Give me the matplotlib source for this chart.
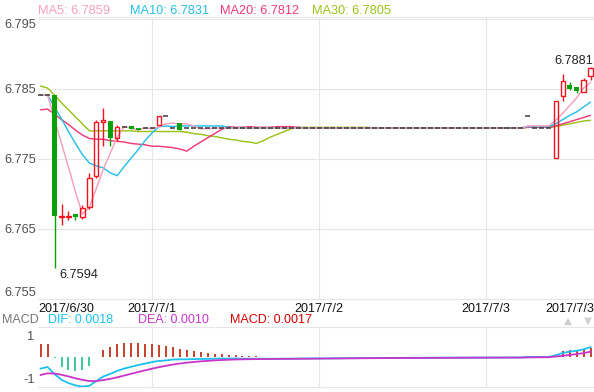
import matplotlib
matplotlib.use("Agg")
import matplotlib.pyplot as plt
import numpy as np

# ---------------- data (hourly candles, 2017/6/30 08:00 .. 2017/7/3 15:00) ----------------
open_ = [6.7841, 6.7841, 6.7841, 6.7667, 6.7667, 6.7671, 6.7667, 6.7682,
         6.7725, 6.7803, 6.7804, 6.7780, 6.7796, 6.7797, 6.7794, 6.7794,
         6.7794, 6.7798, 6.7811, 6.7794, 6.7801, 6.7794, 6.7794, 6.7794,
         6.7794, 6.7794, 6.7794, 6.7794, 6.7794, 6.7794, 6.7794, 6.7794,
         6.7794, 6.7794, 6.7794, 6.7794, 6.7794, 6.7794, 6.7794, 6.7794,
         6.7794, 6.7794, 6.7794, 6.7794, 6.7794, 6.7794, 6.7794, 6.7794,
         6.7794, 6.7794, 6.7794, 6.7794, 6.7794, 6.7794, 6.7794, 6.7794,
         6.7794, 6.7794, 6.7794, 6.7794, 6.7794, 6.7794, 6.7794, 6.7794,
         6.7794, 6.7794, 6.7794, 6.7794, 6.7794, 6.7794, 6.7811, 6.7794,
         6.7794, 6.7794, 6.7751, 6.7839, 6.7856, 6.7852, 6.7846, 6.7868]
high = [6.7841, 6.7841, 6.7841, 6.7686, 6.7675, 6.7671, 6.7684, 6.7730,
        6.7806, 6.7822, 6.7804, 6.7799, 6.7796, 6.7797, 6.7794, 6.7794,
        6.7794, 6.7811, 6.7811, 6.7794, 6.7801, 6.7794, 6.7794, 6.7794,
        6.7794, 6.7794, 6.7794, 6.7794, 6.7794, 6.7794, 6.7794, 6.7794,
        6.7794, 6.7794, 6.7794, 6.7794, 6.7794, 6.7794, 6.7794, 6.7794,
        6.7794, 6.7794, 6.7794, 6.7794, 6.7794, 6.7794, 6.7794, 6.7794,
        6.7794, 6.7794, 6.7794, 6.7794, 6.7794, 6.7794, 6.7794, 6.7794,
        6.7794, 6.7794, 6.7794, 6.7794, 6.7794, 6.7794, 6.7794, 6.7794,
        6.7794, 6.7794, 6.7794, 6.7794, 6.7794, 6.7794, 6.7811, 6.7794,
        6.7794, 6.7794, 6.7833, 6.7871, 6.7860, 6.7852, 6.7866, 6.7881]
low = [6.7841, 6.7841, 6.7594, 6.7656, 6.7663, 6.7663, 6.7664, 6.7679,
       6.7722, 6.7768, 6.7768, 6.7775, 6.7796, 6.7792, 6.7791, 6.7794,
       6.7794, 6.7798, 6.7811, 6.7794, 6.7791, 6.7794, 6.7794, 6.7794,
       6.7794, 6.7794, 6.7794, 6.7794, 6.7794, 6.7794, 6.7794, 6.7794,
       6.7794, 6.7794, 6.7794, 6.7794, 6.7794, 6.7794, 6.7794, 6.7794,
       6.7794, 6.7794, 6.7794, 6.7794, 6.7794, 6.7794, 6.7794, 6.7794,
       6.7794, 6.7794, 6.7794, 6.7794, 6.7794, 6.7794, 6.7794, 6.7794,
       6.7794, 6.7794, 6.7794, 6.7794, 6.7794, 6.7794, 6.7794, 6.7794,
       6.7794, 6.7794, 6.7794, 6.7794, 6.7794, 6.7794, 6.7811, 6.7794,
       6.7794, 6.7794, 6.7751, 6.7833, 6.7848, 6.7844, 6.7846, 6.7863]
close = [6.7841, 6.7841, 6.7668, 6.7669, 6.7669, 6.7667, 6.7680, 6.7722,
         6.7802, 6.7806, 6.7780, 6.7795, 6.7796, 6.7792, 6.7791, 6.7794,
         6.7794, 6.7811, 6.7811, 6.7794, 6.7791, 6.7794, 6.7794, 6.7794,
         6.7794, 6.7794, 6.7794, 6.7794, 6.7794, 6.7794, 6.7794, 6.7794,
         6.7794, 6.7794, 6.7794, 6.7794, 6.7794, 6.7794, 6.7794, 6.7794,
         6.7794, 6.7794, 6.7794, 6.7794, 6.7794, 6.7794, 6.7794, 6.7794,
         6.7794, 6.7794, 6.7794, 6.7794, 6.7794, 6.7794, 6.7794, 6.7794,
         6.7794, 6.7794, 6.7794, 6.7794, 6.7794, 6.7794, 6.7794, 6.7794,
         6.7794, 6.7794, 6.7794, 6.7794, 6.7794, 6.7794, 6.7811, 6.7794,
         6.7794, 6.7794, 6.7833, 6.7861, 6.7850, 6.7847, 6.7863, 6.7880]

ma5 = [6.7841, 6.7841, 6.7806, 6.7772, 6.7738, 6.7703, 6.7671, 6.7681,
       6.7708, 6.7735, 6.7758, 6.7781, 6.7796, 6.7794, 6.7791, 6.7794,
       6.7793, 6.7796, 6.7800, 6.7801, 6.7800, 6.7800, 6.7797, 6.7793,
       6.7793, 6.7794, 6.7794, 6.7794, 6.7794, 6.7794, 6.7794, 6.7794,
       6.7794, 6.7794, 6.7794, 6.7794, 6.7794, 6.7794, 6.7794, 6.7794,
       6.7794, 6.7794, 6.7794, 6.7794, 6.7794, 6.7794, 6.7794, 6.7794,
       6.7794, 6.7794, 6.7794, 6.7794, 6.7794, 6.7794, 6.7794, 6.7794,
       6.7794, 6.7794, 6.7794, 6.7794, 6.7794, 6.7794, 6.7794, 6.7794,
       6.7794, 6.7794, 6.7794, 6.7794, 6.7794, 6.7794, 6.7797, 6.7797,
       6.7797, 6.7797, 6.7805, 6.7815, 6.7826, 6.7837, 6.7851, 6.7859]
ma10 = [6.7841, 6.7841, 6.7824, 6.7807, 6.7789, 6.7772, 6.7756, 6.7744,
        6.7740, 6.7737, 6.7730, 6.7726, 6.7739, 6.7751, 6.7763, 6.7776,
        6.7787, 6.7796, 6.7797, 6.7796, 6.7797, 6.7797, 6.7797, 6.7797,
        6.7797, 6.7797, 6.7797, 6.7795, 6.7794, 6.7794, 6.7794, 6.7794,
        6.7794, 6.7794, 6.7794, 6.7794, 6.7794, 6.7794, 6.7794, 6.7794,
        6.7794, 6.7794, 6.7794, 6.7794, 6.7794, 6.7794, 6.7794, 6.7794,
        6.7794, 6.7794, 6.7794, 6.7794, 6.7794, 6.7794, 6.7794, 6.7794,
        6.7794, 6.7794, 6.7794, 6.7794, 6.7794, 6.7794, 6.7794, 6.7794,
        6.7794, 6.7794, 6.7794, 6.7794, 6.7794, 6.7794, 6.7796, 6.7796,
        6.7796, 6.7796, 6.7800, 6.7806, 6.7812, 6.7817, 6.7824, 6.7831]
ma20 = [6.7820, 6.7821, 6.7814, 6.7806, 6.7799, 6.7791, 6.7784, 6.7779,
        6.7778, 6.7778, 6.7776, 6.7775, 6.7774, 6.7772, 6.7771, 6.7770,
        6.7768, 6.7768, 6.7767, 6.7766, 6.7764, 6.7761, 6.7768, 6.7774,
        6.7780, 6.7786, 6.7792, 6.7796, 6.7795, 6.7795, 6.7796, 6.7795,
        6.7795, 6.7795, 6.7796, 6.7796, 6.7796, 6.7795, 6.7794, 6.7794,
        6.7794, 6.7794, 6.7794, 6.7794, 6.7794, 6.7794, 6.7794, 6.7794,
        6.7794, 6.7794, 6.7794, 6.7794, 6.7794, 6.7794, 6.7794, 6.7794,
        6.7794, 6.7794, 6.7794, 6.7794, 6.7794, 6.7794, 6.7794, 6.7794,
        6.7794, 6.7794, 6.7794, 6.7794, 6.7794, 6.7794, 6.7795, 6.7795,
        6.7795, 6.7795, 6.7797, 6.7800, 6.7803, 6.7806, 6.7809, 6.7812]
ma30 = [6.7854, 6.7851, 6.7841, 6.7830, 6.7820, 6.7810, 6.7800, 6.7790,
        6.7790, 6.7790, 6.7790, 6.7790, 6.7790, 6.7790, 6.7789, 6.7789,
        6.7789, 6.7789, 6.7789, 6.7789, 6.7789, 6.7788, 6.7786, 6.7785,
        6.7783, 6.7782, 6.7780, 6.7778, 6.7777, 6.7775, 6.7774, 6.7772,
        6.7776, 6.7781, 6.7785, 6.7789, 6.7793, 6.7795, 6.7795, 6.7795,
        6.7795, 6.7795, 6.7795, 6.7795, 6.7795, 6.7795, 6.7795, 6.7795,
        6.7794, 6.7794, 6.7794, 6.7794, 6.7794, 6.7794, 6.7794, 6.7794,
        6.7794, 6.7794, 6.7794, 6.7794, 6.7794, 6.7794, 6.7794, 6.7794,
        6.7794, 6.7794, 6.7794, 6.7794, 6.7794, 6.7794, 6.7795, 6.7795,
        6.7795, 6.7795, 6.7796, 6.7798, 6.7800, 6.7802, 6.7804, 6.7805]

# MACD panel (values in units of 1e-4)
dif = [-21.1, -18.2, -31.2, -41.4, -47.4, -51.6, -53.7, -52.2,
       -43.7, -35.3, -30.7, -25.3, -21.0, -17.8, -14.6, -12.1,
       -9.1, -7.1, -6.3, -4.6, -4.2, -4.2, -3.8, -3.6,
       -3.4, -3.1, -2.8, -2.8, -2.7, -3.0, -3.1, -3.2,
       -3.2, -3.2, -3.1, -3.1, -3.0, -2.9, -2.8, -2.7,
       -2.6, -2.5, -2.4, -2.3, -2.2, -2.1, -2.0, -1.9,
       -1.8, -1.7, -1.6, -1.6, -1.5, -1.5, -1.4, -1.4,
       -1.3, -1.3, -1.2, -1.2, -1.1, -1.1, -1.0, -1.0,
       -1.0, -0.9, -0.9, -0.9, -0.8, -0.8, 0.3, 0.2,
       0.1, 0.0, 3.1, 7.4, 9.8, 11.3, 14.0, 18.0]
dea = [-32.6, -29.7, -30.0, -32.3, -35.3, -38.6, -41.6, -43.7,
       -43.7, -42.0, -39.8, -36.9, -33.7, -30.5, -27.3, -24.3,
       -21.2, -18.4, -16.0, -13.7, -11.8, -10.3, -9.0, -7.9,
       -7.0, -6.2, -5.5, -5.0, -4.5, -4.2, -4.0, -3.8,
       -3.7, -3.6, -3.5, -3.4, -3.3, -3.2, -3.1, -3.0,
       -2.9, -2.8, -2.7, -2.6, -2.5, -2.4, -2.3, -2.2,
       -2.1, -2.0, -1.9, -1.9, -1.8, -1.8, -1.7, -1.7,
       -1.6, -1.6, -1.5, -1.5, -1.4, -1.4, -1.3, -1.3,
       -1.2, -1.2, -1.2, -1.1, -1.1, -1.1, -0.8, -0.6,
       -0.5, -0.4, 0.9, 2.2, 3.7, 5.3, 7.0, 9.6]
macd_hist = [23.1, 23.1, -2.4, -18.2, -24.2, -26.0, -24.2, -16.9,
             0.0, 13.5, 18.2, 23.1, 25.5, 25.5, 25.5, 24.4,
             24.4, 22.5, 19.5, 18.2, 15.3, 12.2, 10.4, 8.5,
             7.3, 6.2, 5.5, 4.4, 3.6, 2.5, 1.8, 1.3,
             0.9, 0.7, 0.6, 0.5, 0.5, 0.5, 0.4, 0.4,
             0.4, 0.4, 0.3, 0.3, 0.3, 0.3, 0.3, 0.3,
             0.3, 0.3, 0.3, 0.3, 0.3, 0.2, 0.2, 0.2,
             0.2, 0.2, 0.2, 0.2, 0.2, 0.2, 0.2, 0.2,
             0.2, 0.2, 0.2, 0.2, 0.2, 0.2, 2.2, 1.6,
             1.2, 0.8, 4.4, 10.4, 12.2, 12.2, 14.0, 17.0]

# x axis: day boundaries (candle index) and their labels
day_ticks = [16, 40, 64]
day_labels = ["2017/7/1", "2017/7/2", "2017/7/3"]
first_label = "2017/6/30"
last_label = "2017/7/3"
price_ticks = [6.755, 6.765, 6.775, 6.785, 6.795]

# ---------------- style ----------------
RED = "#f0141e"
GREEN = "#0aa00a"
DOJI = "#3a3a3a"
C_MA5, C_MA10, C_MA20, C_MA30 = "#f6a0bd", "#27bfe6", "#ee3b78", "#9cc21c"
C_DIF, C_DEA, C_MACD = "#1cc0ee", "#c835c8", "#d40000"
GRID = "#e6e6e6"
FS = 9.0

plt.rcParams['font.family'] = ['Liberation Sans', 'DejaVu Sans']

W, H = 594, 392
fig = plt.figure(figsize=(W / 100, H / 100), dpi=100)
fig.patch.set_facecolor("white")

def fx(px):
    return px / W

def fy(py):
    return 1 - py / H

L, R = 38, 594
ax = fig.add_axes([fx(L), fy(299), (R - L) / W, (299 - 17.3) / H])
ax2 = fig.add_axes([fx(L), fy(387), (R - L) / W, 60 / H])

n = len(close)
x = np.arange(n)
o = np.array(open_); h = np.array(high); l = np.array(low); c = np.array(close)

# ---------------- main panel ----------------
for arr, col in [(ma30, C_MA30), (ma20, C_MA20), (ma10, C_MA10), (ma5, C_MA5)]:
    ax.plot(x, arr, color=col, lw=1.05, zorder=2, solid_capstyle="round")

doji = np.isclose(o, c)
up = (c > o) & ~doji
dn = (c < o) & ~doji
BW = 0.62

# up candles: hollow red
ax.bar(x[up], c[up] - o[up], bottom=o[up], width=BW, facecolor="none",
       edgecolor=RED, linewidth=1.0, zorder=4)
ax.vlines(x[up], c[up], h[up], color=RED, lw=1.0, zorder=4)
ax.vlines(x[up], l[up], o[up], color=RED, lw=1.0, zorder=4)
# down candles: filled green
ax.vlines(x[dn], l[dn], h[dn], color=GREEN, lw=1.0, zorder=4)
ax.bar(x[dn], o[dn] - c[dn], bottom=c[dn], width=BW + 0.08, color=GREEN,
       linewidth=0, zorder=4)
# doji
ax.hlines(c[doji], x[doji] - 0.36, x[doji] + 0.36, color=DOJI, lw=1.1, zorder=4)

ax.set_xlim(-0.38, n - 0.5)
ax.set_ylim(6.755, 6.7952)
ax.set_yticks(price_ticks)
ax.set_yticklabels([f"{v:.3f}" for v in price_ticks])
yl = ax.get_yticklabels()
yl[0].set_va("bottom")
yl[-1].set_va("top")
xt = [-0.38] + day_ticks + [n - 0.5]
ax.set_xticks(xt)
ax.set_xticklabels([first_label] + day_labels + [last_label])
xl = ax.get_xticklabels()
xl[0].set_ha("left")
xl[-1].set_ha("right")
ax.grid(True, color=GRID, lw=0.8, zorder=0)
gls = ax.get_xgridlines()
gls[0].set_visible(False)
gls[-1].set_visible(False)
ax.tick_params(axis="y", length=0, pad=1.5, labelsize=FS + 0.2, labelcolor="#505050")
ax.tick_params(axis="x", length=0, pad=2.6, labelsize=FS, labelcolor="#111111")
for s in ["left", "right"]:
    ax.spines[s].set_visible(False)
for s in ["top", "bottom"]:
    ax.spines[s].set_color(GRID)
    ax.spines[s].set_linewidth(0.8)
ax.set_axisbelow(True)

# min / max annotations
imin = int(np.argmin(l)); imax = int(np.argmax(h))
ax.annotate(f"{l[imin]:.4f}", xy=(imin, l[imin]), xytext=(3.5, -4.6),
            textcoords="offset points", ha="left", va="center",
            fontsize=FS + 0.2, color="#222222")
ax.annotate(f"{h[imax]:.4f}", xy=(imax, h[imax]), xytext=(1.8, 4.6),
            textcoords="offset points", ha="right", va="center",
            fontsize=FS + 0.2, color="#222222")

# header MA legend
hdr_y = fy(10.5)
fig.text(fx(38), hdr_y, f"MA5: {ma5[-1]:.4f}", color=C_MA5, fontsize=FS + 0.2, va="center")
fig.text(fx(130), hdr_y, f"MA10: {ma10[-1]:.4f}", color=C_MA10, fontsize=FS + 0.2, va="center")
fig.text(fx(220), hdr_y, f"MA20: {ma20[-1]:.4f}", color=C_MA20, fontsize=FS + 0.2, va="center")
fig.text(fx(311.5), hdr_y, f"MA30: {ma30[-1]:.4f}", color=C_MA30, fontsize=FS + 0.2, va="center")

# ---------------- MACD panel ----------------
s = 1e-4
hist = np.array(macd_hist) * s
ax2.vlines(x[hist > 0], 0, hist[hist > 0], color="#c4301c", lw=1.3, zorder=2)
ax2.vlines(x[hist < 0], 0, hist[hist < 0], color="#2ec48e", lw=1.3, zorder=2)
ax2.plot(x, np.array(dif) * s, color=C_DIF, lw=1.3, zorder=3)
ax2.plot(x, np.array(dea) * s, color=C_DEA, lw=1.3, zorder=3)
ax2.set_xlim(-0.38, n - 0.5)
ax2.set_ylim(-0.00545, 0.00545)
ax2.set_yticks([0.0039, -0.0039])
ax2.set_yticklabels(["1", "-1"])
ax2.set_xticks(day_ticks)
ax2.set_xticklabels([])
ax2.grid(True, axis="x", color=GRID, lw=0.8, zorder=0)
ax2.tick_params(axis="y", length=0, pad=2.5, labelsize=FS + 0.2, labelcolor="#505050")
ax2.tick_params(axis="x", length=0)
for sp in ["left", "right"]:
    ax2.spines[sp].set_visible(False)
for sp in ["top", "bottom"]:
    ax2.spines[sp].set_color(GRID)
    ax2.spines[sp].set_linewidth(0.8)

mh_y = fy(320.3)
fig.text(fx(2), mh_y, "MACD", color="#777777", fontsize=FS, va="center")
fig.text(fx(47.7), mh_y, f"DIF: {dif[-1] * s:.4f}", color=C_DIF, fontsize=FS, va="center")
fig.text(fx(138), mh_y, f"DEA: {dea[-1] * s:.4f}", color=C_DEA, fontsize=FS, va="center")
fig.text(fx(230), mh_y, f"MACD: {macd_hist[-1] * s:.4f}", color=C_MACD, fontsize=FS, va="center")
fig.text(fx(567.5), fy(320.5), "\u25B2", color="#d0d0d0", fontsize=7.5, ha="center",
         va="center", family="DejaVu Sans")
fig.text(fx(588), fy(320.5), "\u25BC", color="#d0d0d0", fontsize=7.5, ha="center",
         va="center", family="DejaVu Sans")

fig.savefig("out.png", dpi=100, facecolor="white")
